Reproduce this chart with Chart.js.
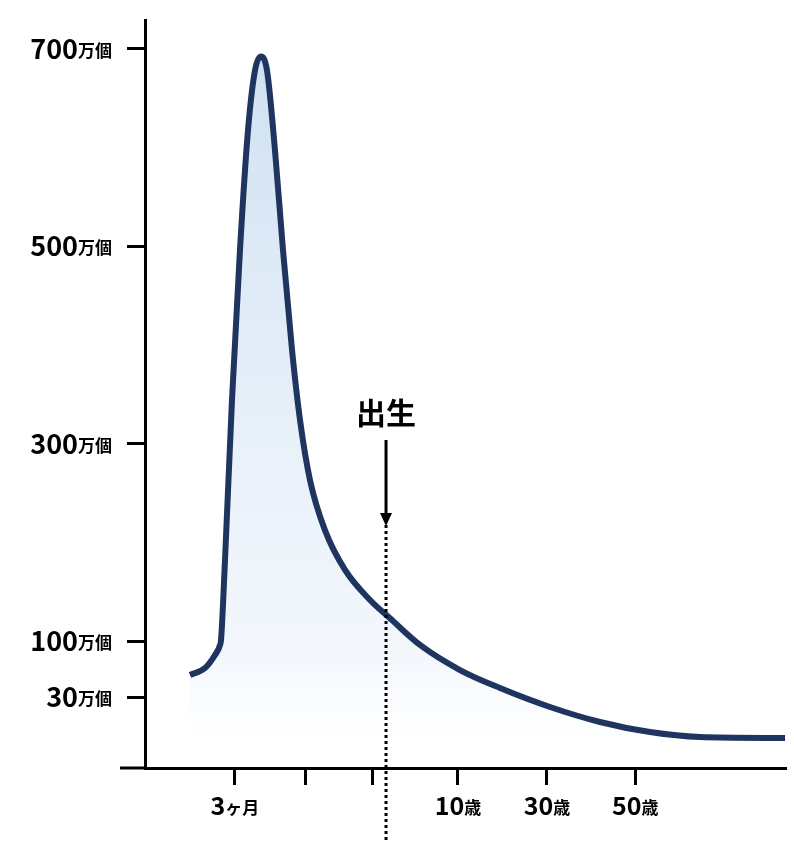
<!DOCTYPE html>
<html><head><meta charset="utf-8">
<script src="https://cdn.jsdelivr.net/npm/chart.js@4"></script>
<style>html,body{margin:0;padding:0;background:#fff}</style>
</head><body>
<canvas id="c" width="794" height="842"></canvas>
<script>
const curveX = [7.03,9.38,10.94,11.72,11.88,12.5,13.59,14.84,16.09,17.19,18.13,19.06,20.31,21.56,22.97,24.22,25.78,28.13,31.25,35.16,38.28,42.97,49.22,55.47,63.28,71.09,78.9,86.7,100];
const curveY = [65.6,72.7,85.8,95.9,101,182,344,496,617,678,692,678,597,496,395,324,263,212,172,141.5,123,96,70.6,52.4,33.2,18,7.8,2.8,1.8];
const yTickValues = [43.3,100,300,500,700];
const yTickNums = ['30','100','300','500','700'];
const yTickUnit = '万個';
const xTickValues = [14.06,25,35.47,48.9,62.8,76.6];
const xTickNums = ['3','','','10','30','50'];
const xTickUnits = ['ヶ月','','','歳','歳','歳'];
const birthX = 37.66;
const birthLabel = '出生';

const FONT = '"Noto Sans CJK JP", "Noto Sans", sans-serif';
const ctx = document.getElementById('c').getContext('2d');

const deco = {
  id:'deco',
  afterDraw(chart){
    const c = chart.ctx, xs = chart.scales.x, ys = chart.scales.y;
    c.save();
    c.fillStyle = '#000';
    c.strokeStyle='#000'; c.lineWidth=3;
    c.beginPath(); c.moveTo(120, ys.bottom); c.lineTo(xs.left, ys.bottom); c.stroke();
    c.textBaseline='middle';
    yTickValues.forEach((v,i)=>{
      const y = ys.getPixelForValue(v);
      c.font = 'bold 17px '+FONT; const uw = c.measureText(yTickUnit).width;
      c.textAlign='right'; c.fillText(yTickUnit, 112, y+2);
      c.font = 'bold 27px '+FONT; c.fillText(yTickNums[i], 112-uw, y);
    });
    xTickValues.forEach((v,i)=>{
      if(!xTickNums[i]) return;
      const x = xs.getPixelForValue(v);
      c.font='bold 25px '+FONT; const nw=c.measureText(xTickNums[i]).width;
      c.font='bold 17px '+FONT; const uw=c.measureText(xTickUnits[i]).width;
      const s = x-(nw+uw)/2;
      c.textAlign='left';
      c.font='bold 25px '+FONT; c.fillText(xTickNums[i], s, 805);
      c.font='bold 17px '+FONT; c.fillText(xTickUnits[i], s+nw, 808);
    });
    const bx = xs.getPixelForValue(birthX);
    c.setLineDash([3,3]); c.lineWidth=3;
    c.beginPath(); c.moveTo(bx,525); c.lineTo(bx,842); c.stroke();
    c.setLineDash([]);
    c.beginPath(); c.moveTo(bx,440); c.lineTo(bx,515); c.stroke();
    c.beginPath(); c.moveTo(bx-6,513); c.lineTo(bx+6,513); c.lineTo(bx,526); c.closePath(); c.fill();
    c.font='bold 30px '+FONT; c.textAlign='center';
    c.fillText(birthLabel, bx, 413);
    c.restore();
  }
};

new Chart(ctx,{
  type:'line',
  data:{datasets:[{
    data: curveX.map((x,i)=>({x, y:curveY[i]})),
    borderColor:'#1f3560', borderWidth:6, pointRadius:0,
    cubicInterpolationMode:'monotone',
    fill:'origin',
    backgroundColor:(c)=>{
      const a=c.chart.chartArea; if(!a) return 'rgba(200,220,240,0.5)';
      const g=c.chart.ctx.createLinearGradient(0,a.top,0,a.bottom);
      g.addColorStop(0,'rgba(200,220,240,0.9)');
      g.addColorStop(0.85,'rgba(238,244,251,0.7)');
      g.addColorStop(1,'rgba(255,255,255,0)');
      return g;
    }
  }]},
  options:{
    responsive:false, animation:false,
    layout:{padding:{top:20,right:9,left:0,bottom:0}},
    plugins:{legend:{display:false},tooltip:{enabled:false}},
    scales:{
      x:{type:'linear',min:0,max:100,
        afterFit:s=>{s.height=74},
        afterBuildTicks:s=>{s.ticks=xTickValues.map(v=>({value:v}))},
        ticks:{display:false},
        grid:{drawOnChartArea:false,tickLength:17,color:'#000',lineWidth:3},
        border:{color:'#000',width:3}},
      y:{type:'linear',min:-28.6,max:728.9,
        afterFit:s=>{s.width=145},
        afterBuildTicks:s=>{s.ticks=yTickValues.map(v=>({value:v}))},
        ticks:{display:false},
        grid:{drawOnChartArea:false,tickLength:18,color:'#000',lineWidth:3},
        border:{color:'#000',width:3}}
    }
  },
  plugins:[deco]
});
</script>
</body></html>
